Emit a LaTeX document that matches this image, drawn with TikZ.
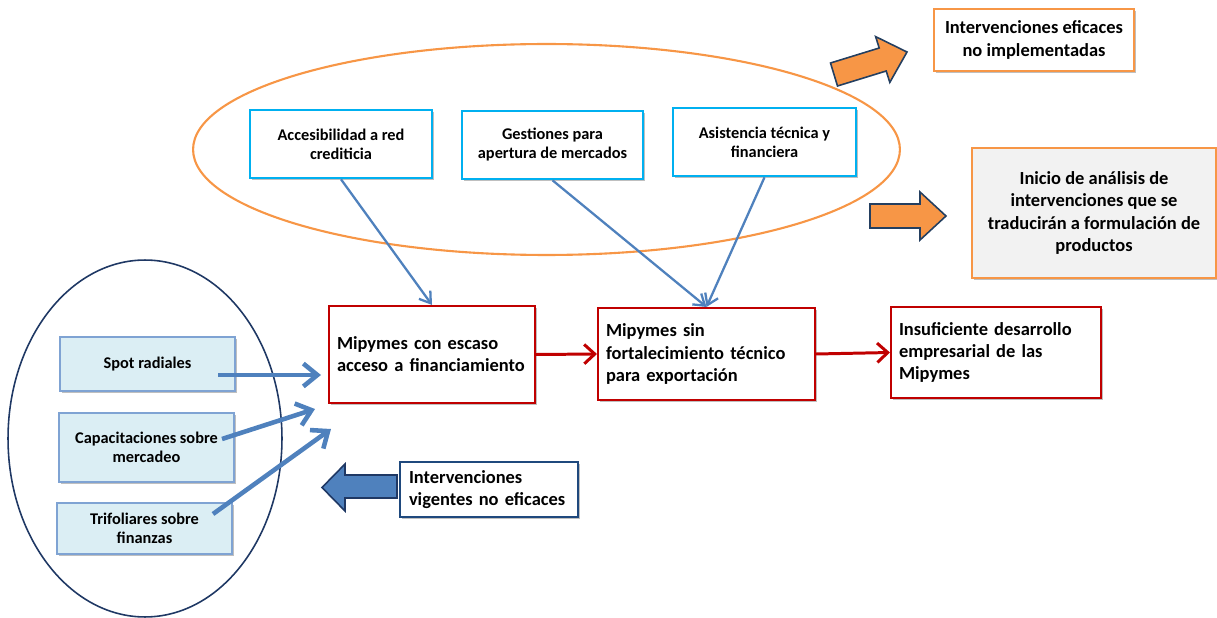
\documentclass[tikz,border=0pt]{standalone}
\usepackage{fontspec}
\setmainfont{Carlito}
\usetikzlibrary{arrows.meta,shadows}
\definecolor{cRed}{HTML}{C00000}
\definecolor{cCyan}{HTML}{00B0F0}
\definecolor{cOrange}{HTML}{F79646}
\definecolor{cNavy}{HTML}{1F3864}
\definecolor{cBlue}{HTML}{4F81BD}
\definecolor{cLight}{HTML}{DBEEF4}
\definecolor{cLightB}{HTML}{7FA3D3}
\definecolor{cDark}{HTML}{243F60}
\definecolor{cGray}{HTML}{F2F2F2}
\definecolor{cVig}{HTML}{1F497D}
\tikzset{
  shad/.style={drop shadow={shadow xshift=1.2pt,shadow yshift=-1.2pt,opacity=0.25,fill=black}},
  bx/.style={draw, fill=white, inner sep=0pt, shad},
  smallfont/.style={font=\bfseries\fontsize{9.3}{10.8}\selectfont},
  bigfont/.style={font=\bfseries\fontsize{10.5}{12.6}\selectfont},
  cyanbox/.style={bx, draw=cCyan, line width=1.5pt, align=center, smallfont},
  redbox/.style={bx, draw=cRed, line width=1.2pt, align=left, bigfont},
  lbox/.style={bx, draw=cLightB, fill=cLight, line width=0.8pt, align=center, smallfont},
  obox/.style={bx, draw=cOrange, line width=1.2pt, align=center, bigfont},
  thin/.style={draw=cBlue, line width=1.3pt, -{Straight Barb[length=6pt,width=8pt]}},
  thick/.style={draw=cBlue, line width=2.6pt, -{Straight Barb[length=8pt,width=13pt]}},
  redarr/.style={draw=cRed, line width=1.7pt, -{Straight Barb[length=6pt,width=11pt]}},
  blockarrow/.style={line width=0.9pt, line join=miter}
}
\begin{document}
\begin{tikzpicture}[x=0.02cm,y=-0.02cm]
\useasboundingbox (0,0) rectangle (1217,618);

% ellipses
\draw[cOrange, line width=1.2pt] (546.5,149.5) ellipse [x radius=7.07cm, y radius=2.11cm];
\draw[cNavy, line width=0.9pt] (145,438.5) ellipse [x radius=2.74cm, y radius=3.57cm];

% top cyan boxes
\node[cyanbox, minimum width=3.64cm, minimum height=1.36cm] (acc) at (341,144) {Accesibilidad a red\\crediticia};
\node[cyanbox, minimum width=3.62cm, minimum height=1.36cm] (ges) at (552.5,145) {Gestiones para\\apertura de mercados};
\node[cyanbox, minimum width=3.66cm, minimum height=1.36cm] (asi) at (764.5,142) {Asistencia técnica y\\financiera};

% red boxes
\node[redbox, minimum width=4.12cm, minimum height=1.94cm, text width=3.8cm] (esc) at (432,354.5) {Mipymes con escaso\\acceso a financiamiento};
\node[redbox, minimum width=4.34cm, minimum height=1.84cm, text width=4.02cm] (sin) at (706.5,354) {Mipymes sin\\fortalecimiento técnico\\para exportación};
\node[redbox, minimum width=4.2cm, minimum height=1.82cm, text width=3.88cm] (ins) at (996,352.5) {Insuficiente desarrollo\\empresarial de las\\Mipymes};

% light blue boxes
\node[lbox, minimum width=3.5cm, minimum height=1.08cm] (spot) at (147.5,364) {Spot radiales};
\node[lbox, minimum width=3.5cm, minimum height=1.38cm] (cap) at (146.5,447.5) {Capacitaciones sobre\\mercadeo};
\node[lbox, minimum width=3.5cm, minimum height=1.02cm] (tri) at (144.5,528.5) {Trifoliares sobre\\finanzas};

% vigentes box
\node[bx, draw=cVig, line width=1.2pt, minimum width=3.56cm, minimum height=1.1cm, text width=3.2cm, align=left, bigfont] (vig) at (489,489.5) {Intervenciones\\vigentes no eficaces};

% orange boxes
\node[obox, minimum width=4.0cm, minimum height=1.24cm] (efi) at (1034,40) {Intervenciones eficaces\\no implementadas};
\node[obox, fill=cGray, minimum width=4.88cm, minimum height=2.6cm] (ini) at (1094,213) {Inicio de análisis de\\intervenciones que se\\traducirán a formulación de\\productos};

% thin blue connectors
\draw[thin] (acc.south) -- (esc.north);
\draw[thin] (ges.south) -- (sin.north);
\draw[thin] (asi.south) -- (sin.north);

% red connectors
\draw[redarr] (esc.east) -- (sin.west);
\draw[redarr] (sin.east) -- (ins.west);

% thick blue connectors
\coordinate (s1) at (218,375);
\coordinate (e1) at (321,375);
\coordinate (s2) at (222,439);
\coordinate (e2) at (315,409);
\coordinate (s3) at (213,514);
\coordinate (e3) at (331,429);
\draw[thick] (s1) -- (e1);
\draw[thick] (s2) -- (e2);
\draw[thick] (s3) -- (e3);

% blue block arrow
\draw[blockarrow, draw=cNavy, fill=cBlue] (397,475) -- (345,475) -- (345,464) -- (322,487.5) -- (345,511) -- (345,498) -- (397,498) -- cycle;

% orange block arrows
\draw[blockarrow, draw=cDark, fill=cOrange] (830.5,63) -- (879.2,48) -- (875.6,36.6) -- (907,52) -- (889.8,82.4) -- (886.2,71) -- (837.5,86) -- cycle;
\draw[blockarrow, draw=cDark, fill=cOrange] (870,204) -- (920,204) -- (920,192) -- (946,216) -- (920,240) -- (920,228) -- (870,228) -- cycle;
\end{tikzpicture}
\end{document}
